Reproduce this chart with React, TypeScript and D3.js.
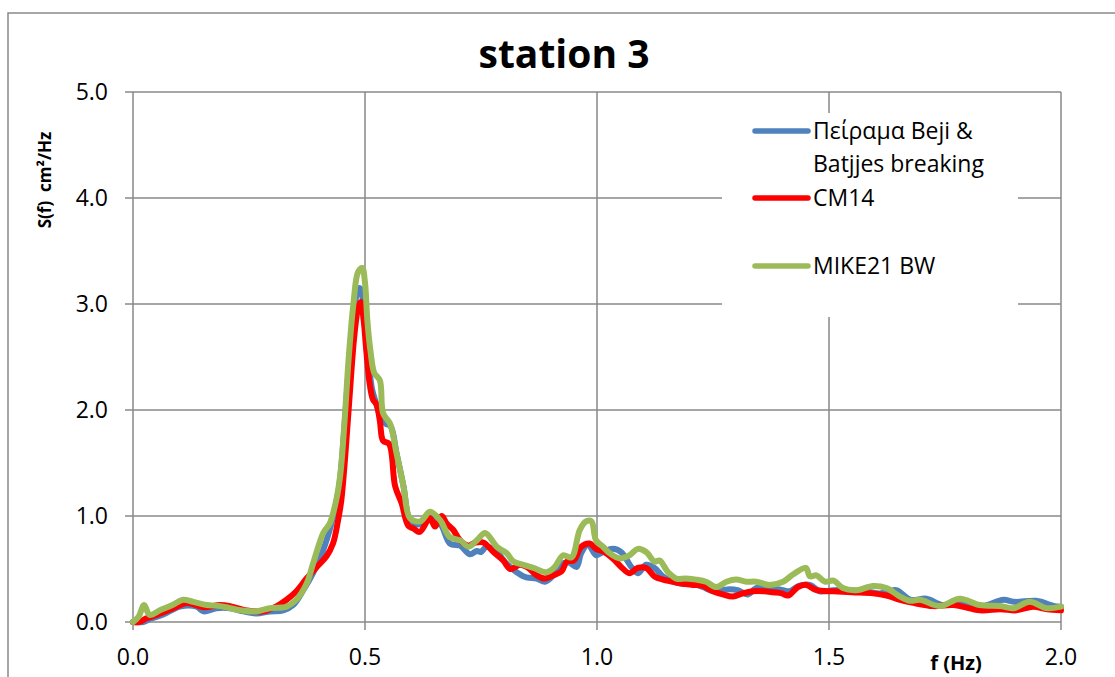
import React from "react";
import * as d3 from "d3";

const title = "station 3";
const yLabel = "S(f)  cm²/Hz";
const xLabel = "f (Hz)";
const xTicks = [0, 0.5, 1.0, 1.5, 2.0];
const yTicks = [0, 1, 2, 3, 4, 5];
const seriesNames = ["Πείραμα Beji &|Batjjes breaking", "CM14", "MIKE21 BW"];
const seriesColors = ["#4F81BD", "#FF0000", "#9BBB59"];

const experiment: [number, number][] = [
  [0, 0], [0.022, 0.0], [0.037, 0.03], [0.065, 0.07], [0.101, 0.145], [0.137, 0.145], [0.152, 0.1], [0.18, 0.13],
  [0.209, 0.13], [0.238, 0.1], [0.266, 0.08], [0.295, 0.1], [0.324, 0.11], [0.345, 0.16], [0.367, 0.3], [0.388, 0.46],
  [0.41, 0.68], [0.424, 0.87], [0.435, 1.06], [0.445, 1.3], [0.455, 1.8], [0.465, 2.4], [0.475, 2.9], [0.484, 3.12],
  [0.489, 3.15], [0.495, 3.05], [0.5, 2.8], [0.507, 2.5], [0.515, 2.2], [0.525, 2.05], [0.535, 1.92], [0.545, 1.87],
  [0.555, 1.85], [0.568, 1.59], [0.583, 1.28], [0.597, 0.95], [0.61, 0.92], [0.625, 0.93], [0.64, 0.98], [0.662, 0.93],
  [0.683, 0.74], [0.705, 0.72], [0.726, 0.64], [0.741, 0.67], [0.75, 0.66], [0.762, 0.71], [0.784, 0.66], [0.805, 0.55],
  [0.827, 0.47], [0.848, 0.42], [0.87, 0.41], [0.888, 0.38], [0.906, 0.44], [0.924, 0.55], [0.94, 0.56], [0.956, 0.52],
  [0.966, 0.65], [0.981, 0.73], [0.998, 0.63], [1.013, 0.66], [1.034, 0.69], [1.052, 0.66], [1.074, 0.52], [1.088, 0.46],
  [1.106, 0.54], [1.124, 0.51], [1.142, 0.43], [1.164, 0.38], [1.185, 0.36], [1.207, 0.36], [1.228, 0.33], [1.25, 0.29],
  [1.271, 0.3], [1.286, 0.31], [1.303, 0.3], [1.325, 0.26], [1.343, 0.32], [1.372, 0.32], [1.401, 0.3], [1.415, 0.29],
  [1.435, 0.34], [1.459, 0.35], [1.48, 0.29], [1.509, 0.3], [1.537, 0.3], [1.581, 0.29], [1.61, 0.27], [1.645, 0.3],
  [1.675, 0.21], [1.71, 0.22], [1.746, 0.16], [1.782, 0.2], [1.825, 0.145], [1.876, 0.21], [1.9, 0.19], [1.947, 0.2],
  [1.986, 0.15], [2.0, 0.145],
];

const cm14: [number, number][] = [
  [0, 0], [0.013, 0.0], [0.029, 0.035], [0.051, 0.066], [0.087, 0.13], [0.116, 0.18], [0.152, 0.14], [0.188, 0.16],
  [0.209, 0.15], [0.245, 0.11], [0.281, 0.1], [0.31, 0.15], [0.331, 0.21], [0.352, 0.29], [0.374, 0.41], [0.396, 0.52],
  [0.417, 0.62], [0.431, 0.74], [0.442, 0.96], [0.449, 1.15], [0.458, 1.6], [0.468, 2.2], [0.477, 2.7], [0.486, 2.98],
  [0.491, 3.02], [0.497, 2.85], [0.503, 2.55], [0.51, 2.25], [0.517, 2.1], [0.525, 2.05], [0.532, 1.9], [0.539, 1.71],
  [0.552, 1.68], [0.565, 1.28], [0.579, 1.12], [0.593, 0.91], [0.605, 0.88], [0.618, 0.85], [0.64, 0.98], [0.651, 0.9],
  [0.665, 1.0], [0.676, 0.93], [0.69, 0.87], [0.705, 0.77], [0.723, 0.72], [0.738, 0.75], [0.755, 0.75], [0.777, 0.66],
  [0.798, 0.58], [0.813, 0.5], [0.834, 0.54], [0.852, 0.51], [0.87, 0.44], [0.888, 0.41], [0.906, 0.44], [0.924, 0.48],
  [0.935, 0.57], [0.95, 0.58], [0.966, 0.71], [0.984, 0.74], [0.998, 0.69], [1.016, 0.66], [1.034, 0.6], [1.052, 0.52],
  [1.07, 0.46], [1.088, 0.51], [1.106, 0.51], [1.124, 0.43], [1.142, 0.4], [1.164, 0.38], [1.185, 0.36], [1.207, 0.35],
  [1.228, 0.34], [1.25, 0.29], [1.271, 0.26], [1.293, 0.24], [1.314, 0.27], [1.336, 0.29], [1.36, 0.29], [1.38, 0.28],
  [1.398, 0.27], [1.412, 0.25], [1.433, 0.33], [1.451, 0.35], [1.473, 0.3], [1.509, 0.29], [1.55, 0.28], [1.595, 0.27],
  [1.624, 0.25], [1.653, 0.21], [1.682, 0.18], [1.725, 0.15], [1.768, 0.16], [1.825, 0.11], [1.869, 0.12], [1.904, 0.11],
  [1.94, 0.145], [1.97, 0.12], [2.0, 0.11],
];

const mike21: [number, number][] = [
  [0, 0], [0.012, 0.05], [0.024, 0.16], [0.036, 0.066], [0.058, 0.11], [0.085, 0.16], [0.108, 0.21], [0.13, 0.19],
  [0.159, 0.16], [0.188, 0.15], [0.21, 0.13], [0.231, 0.11], [0.266, 0.1], [0.295, 0.13], [0.331, 0.145], [0.352, 0.21],
  [0.374, 0.36], [0.388, 0.55], [0.41, 0.84], [0.424, 0.93], [0.438, 1.15], [0.447, 1.4], [0.456, 1.9], [0.465, 2.5],
  [0.475, 3.0], [0.485, 3.3], [0.494, 3.34], [0.5, 3.2], [0.505, 2.85], [0.512, 2.55], [0.52, 2.35], [0.532, 2.28],
  [0.539, 1.97], [0.554, 1.87], [0.568, 1.59], [0.583, 1.28], [0.597, 0.98], [0.619, 0.95], [0.64, 1.04], [0.662, 0.96],
  [0.683, 0.8], [0.705, 0.77], [0.723, 0.71], [0.741, 0.77], [0.759, 0.84], [0.784, 0.71], [0.805, 0.65], [0.82, 0.57],
  [0.841, 0.54], [0.863, 0.51], [0.892, 0.47], [0.909, 0.52], [0.927, 0.63], [0.945, 0.61], [0.963, 0.87], [0.977, 0.95],
  [0.988, 0.95], [0.998, 0.77], [1.013, 0.71], [1.027, 0.65], [1.049, 0.6], [1.07, 0.63], [1.088, 0.69], [1.106, 0.66],
  [1.124, 0.57], [1.135, 0.58], [1.153, 0.47], [1.171, 0.41], [1.192, 0.41], [1.214, 0.4], [1.235, 0.38], [1.257, 0.33],
  [1.279, 0.38], [1.3, 0.4], [1.322, 0.38], [1.343, 0.38], [1.372, 0.35], [1.401, 0.38], [1.423, 0.45], [1.45, 0.51],
  [1.459, 0.43], [1.473, 0.44], [1.491, 0.38], [1.51, 0.39], [1.53, 0.32], [1.559, 0.3], [1.595, 0.34], [1.624, 0.32],
  [1.653, 0.24], [1.675, 0.2], [1.696, 0.21], [1.739, 0.15], [1.782, 0.22], [1.825, 0.16], [1.869, 0.15], [1.897, 0.13],
  [1.933, 0.19], [1.969, 0.13], [2.0, 0.145],
];

const seriesData = [experiment, cm14, mike21];

export default function App() {
  const W = 1115;
  const H = 677;
  const left = 133, right = 1061, top = 92, bottom = 622;
  const x = d3.scaleLinear().domain([0, 2]).range([left, right]);
  const y = d3.scaleLinear().domain([0, 5]).range([bottom, top]);
  const line = d3
    .line<[number, number]>()
    .x((d) => x(d[0]))
    .y((d) => y(d[1]))
    .curve(d3.curveCatmullRom.alpha(0.5));
  const grid = "#898989";
  const font = "'Open Sans', sans-serif";

  const legend = { x0: 722, y0: 113, x1: 1018, y1: 317 };
  const legendRows = [131, 198, 266];

  return (
    <svg
      width={W}
      height={H}
      style={{ position: "absolute", left: 0, top: 0, background: "#fff" }}
    >
      <rect x={0} y={0} width={W} height={H} fill="#fff" />
      <rect x={8} y={13} width={1130} height={720} fill="#fff" stroke={grid} strokeWidth={1.5} />
      {yTicks.map((t) => (
        <line key={"h" + t} x1={left - 8} x2={right} y1={y(t)} y2={y(t)} stroke={grid} strokeWidth={1.5} />
      ))}
      {xTicks.map((t) => (
        <line key={"v" + t} x1={x(t)} x2={x(t)} y1={top} y2={bottom + 8} stroke={grid} strokeWidth={1.5} />
      ))}
      <rect x={legend.x0} y={legend.y0} width={legend.x1 - legend.x0} height={legend.y1 - legend.y0} fill="#fff" />
      {yTicks.map((t) => (
        <text key={"yl" + t} x={108} y={y(t)} dy="0.36em" textAnchor="end" fontFamily={font} fontSize={23} fill="#000">
          {t.toFixed(1)}
        </text>
      ))}
      {xTicks.map((t) => (
        <text key={"xl" + t} x={x(t)} y={665} textAnchor="middle" fontFamily={font} fontSize={23} fill="#000">
          {t.toFixed(1)}
        </text>
      ))}
      {seriesData.map((s, i) => (
        <path
          key={"s" + i}
          d={line(s) || ""}
          fill="none"
          stroke={seriesColors[i]}
          strokeWidth={6}
          strokeLinejoin="round"
          strokeLinecap="round"
        />
      ))}
      {seriesNames.map((n, i) => (
        <g key={"lg" + i}>
          <line x1={755} x2={808} y1={legendRows[i]} y2={legendRows[i]} stroke={seriesColors[i]} strokeWidth={5.5} strokeLinecap="round" />
          {n.split("|").map((part, j) => (
            <text key={j} x={813} y={legendRows[i] + 8 + j * 33} fontFamily={font} fontSize={23} fill="#000">
              {part}
            </text>
          ))}
        </g>
      ))}
      <text x={564} y={68} textAnchor="middle" fontFamily={font} fontWeight="bold" fontSize={39} fill="#000">
        {title}
      </text>
      <text
        transform={`translate(51,180) rotate(-90)`}
        textAnchor="middle"
        fontFamily={font}
        fontWeight="bold"
        fontSize={17}
        fill="#000"
        style={{ whiteSpace: "pre" }}
      >
        {yLabel}
      </text>
      <text x={956} y={670} textAnchor="middle" fontFamily={font} fontWeight="bold" fontSize={20} fill="#000">
        {xLabel}
      </text>
    </svg>
  );
}
